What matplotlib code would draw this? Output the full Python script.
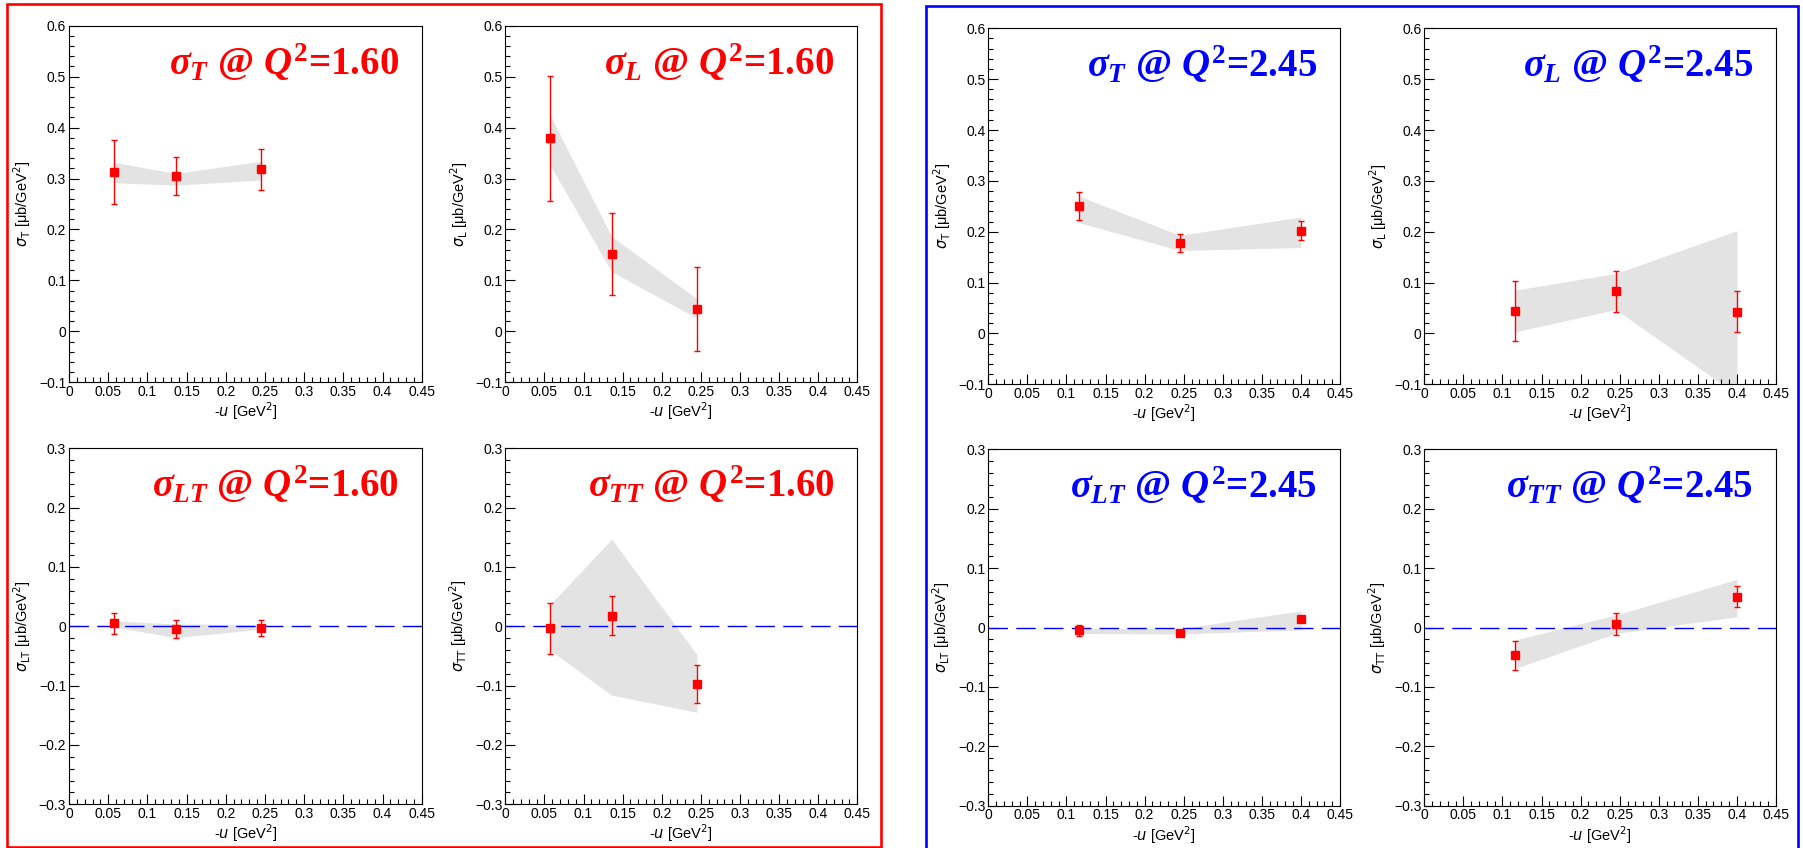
import matplotlib
matplotlib.use("Agg")
import matplotlib.pyplot as plt
from matplotlib.patches import Rectangle
from matplotlib.ticker import MultipleLocator, FuncFormatter

# serif bold / bold-italic for the panel titles (custom mathtext set)
plt.rcParams['mathtext.fontset'] = 'custom'
plt.rcParams['mathtext.rm'] = 'Liberation Serif:bold'
plt.rcParams['mathtext.bf'] = 'Liberation Serif:bold'
plt.rcParams['mathtext.it'] = 'Liberation Serif:italic:bold'
plt.rcParams['font.family'] = ['Liberation Sans', 'DejaVu Sans']

# -u values
u_q160 = [0.057, 0.136, 0.245]
u_q245 = [0.116, 0.245, 0.400]

# Q^2 = 1.60
sigT_160 = [0.313, 0.305, 0.318]
sigT_160_err = [0.063, 0.038, 0.040]
sigT_160_lo = [0.292, 0.287, 0.297]
sigT_160_hi = [0.332, 0.310, 0.334]

sigL_160 = [0.379, 0.152, 0.044]
sigL_160_err = [0.123, 0.081, 0.083]
sigL_160_lo = [0.327, 0.117, 0.026]
sigL_160_hi = [0.425, 0.186, 0.064]

sigLT_160 = [0.005, -0.005, -0.003]
sigLT_160_err = [0.018, 0.015, 0.013]
sigLT_160_lo = [-0.001, -0.019, -0.005]
sigLT_160_hi = [0.009, 0.004, 0.003]

sigTT_160 = [-0.003, 0.018, -0.097]
sigTT_160_err = [0.043, 0.033, 0.032]
sigTT_160_lo = [-0.040, -0.116, -0.145]
sigTT_160_hi = [0.036, 0.147, -0.048]

# Q^2 = 2.45
sigT_245 = [0.251, 0.178, 0.202]
sigT_245_err = [0.028, 0.017, 0.019]
sigT_245_lo = [0.218, 0.163, 0.169]
sigT_245_hi = [0.270, 0.193, 0.229]

sigL_245 = [0.045, 0.083, 0.043]
sigL_245_err = [0.059, 0.040, 0.041]
sigL_245_lo = [0.003, 0.047, -0.120]
sigL_245_hi = [0.085, 0.118, 0.202]

sigLT_245 = [-0.005, -0.009, 0.014]
sigLT_245_err = [0.010, 0.005, 0.003]
sigLT_245_lo = [-0.010, -0.011, -0.004]
sigLT_245_hi = [-0.001, -0.002, 0.028]

sigTT_245 = [-0.047, 0.006, 0.052]
sigTT_245_err = [0.025, 0.018, 0.018]
sigTT_245_lo = [-0.069, -0.010, 0.018]
sigTT_245_hi = [-0.021, 0.021, 0.081]

W, H = 1803, 848
fig = plt.figure(figsize=(W / 100, H / 100), dpi=100)


def px_axes(left, top, right, bottom):
    return [left / W, 1 - bottom / H, (right - left) / W, (bottom - top) / H]


def fmt(v, pos):
    s = '%g' % round(v, 3)
    return s.replace('-', '\u2212')


def panel(rect, u, y, yerr, lo, hi, sub, q2, tcol, ylim, zero_line):
    ax = fig.add_axes(rect)
    ax.fill_between(u, lo, hi, color='#e3e3e3', lw=0, zorder=1)
    if zero_line:
        ax.axhline(0, color='blue', lw=1, dashes=(14, 6), zorder=2)
    ax.errorbar(u, y, yerr=yerr, fmt='s', color='red', ms=6.3, elinewidth=1,
                capsize=2.5, capthick=1, zorder=3)
    ax.set_xlim(0, 0.45)
    ax.set_ylim(*ylim)
    ax.xaxis.set_major_locator(MultipleLocator(0.05))
    ax.xaxis.set_minor_locator(MultipleLocator(0.01))
    ax.yaxis.set_major_locator(MultipleLocator(0.1))
    ax.yaxis.set_minor_locator(MultipleLocator(0.02))
    ax.xaxis.set_major_formatter(FuncFormatter(fmt))
    ax.yaxis.set_major_formatter(FuncFormatter(fmt))
    ax.tick_params(which='both', direction='in', top=False, right=False,
                   labelsize=10, width=0.8)
    ax.tick_params(which='major', length=7, pad=2)
    ax.tick_params(which='minor', length=3.5)
    for sp in ax.spines.values():
        sp.set_linewidth(0.8)
    ax.set_xlabel(r'-$u$ [GeV$^{2}$]', fontsize=10.5, labelpad=1,
                  math_fontfamily='dejavusans')
    ax.set_ylabel(r'$\sigma_{\mathrm{' + sub + r'}}$ [μb/GeV$^{2}$]',
                  fontsize=10.5, labelpad=4, math_fontfamily='dejavusans')
    ax.text(0.935, 0.862, r'$\sigma_{' + sub + r'}$ @ $Q^{2}$=' + q2,
            transform=ax.transAxes, ha='right', va='baseline', color=tcol,
            fontsize=28, fontfamily='Liberation Serif', fontweight='bold')
    return ax


top_lim = (-0.1, 0.6)
bot_lim = (-0.3, 0.3)

panel(px_axes(69, 25.7, 421.7, 382.3), u_q160, sigT_160, sigT_160_err,
      sigT_160_lo, sigT_160_hi, 'T', '1.60', 'red', top_lim, False)
panel(px_axes(505.3, 25.7, 857.3, 382.3), u_q160, sigL_160, sigL_160_err,
      sigL_160_lo, sigL_160_hi, 'L', '1.60', 'red', top_lim, False)
panel(px_axes(69, 448.3, 421.7, 804.3), u_q160, sigLT_160, sigLT_160_err,
      sigLT_160_lo, sigLT_160_hi, 'LT', '1.60', 'red', bot_lim, True)
panel(px_axes(505.3, 448.3, 857.3, 804.3), u_q160, sigTT_160, sigTT_160_err,
      sigTT_160_lo, sigTT_160_hi, 'TT', '1.60', 'red', bot_lim, True)

panel(px_axes(988.3, 28.3, 1340, 384.3), u_q245, sigT_245, sigT_245_err,
      sigT_245_lo, sigT_245_hi, 'T', '2.45', 'blue', top_lim, False)
panel(px_axes(1424.3, 28.3, 1776, 384.3), u_q245, sigL_245, sigL_245_err,
      sigL_245_lo, sigL_245_hi, 'L', '2.45', 'blue', top_lim, False)
panel(px_axes(988.3, 449.3, 1340, 805.7), u_q245, sigLT_245, sigLT_245_err,
      sigLT_245_lo, sigLT_245_hi, 'LT', '2.45', 'blue', bot_lim, True)
panel(px_axes(1424.3, 449.3, 1776, 805.7), u_q245, sigTT_245, sigTT_245_err,
      sigTT_245_lo, sigTT_245_hi, 'TT', '2.45', 'blue', bot_lim, True)

# frames round the two Q^2 groups
fig.add_artist(Rectangle((6.7 / W, 1 - 847 / H), 874 / W, 843 / H,
                         transform=fig.transFigure, fill=False, ec='red',
                         lw=1.9, clip_on=False))
fig.add_artist(Rectangle((925.7 / W, 1 - 851 / H), 872 / W, 845 / H,
                         transform=fig.transFigure, fill=False, ec='blue',
                         lw=1.9, clip_on=False))

fig.savefig('out.png', dpi=100)
